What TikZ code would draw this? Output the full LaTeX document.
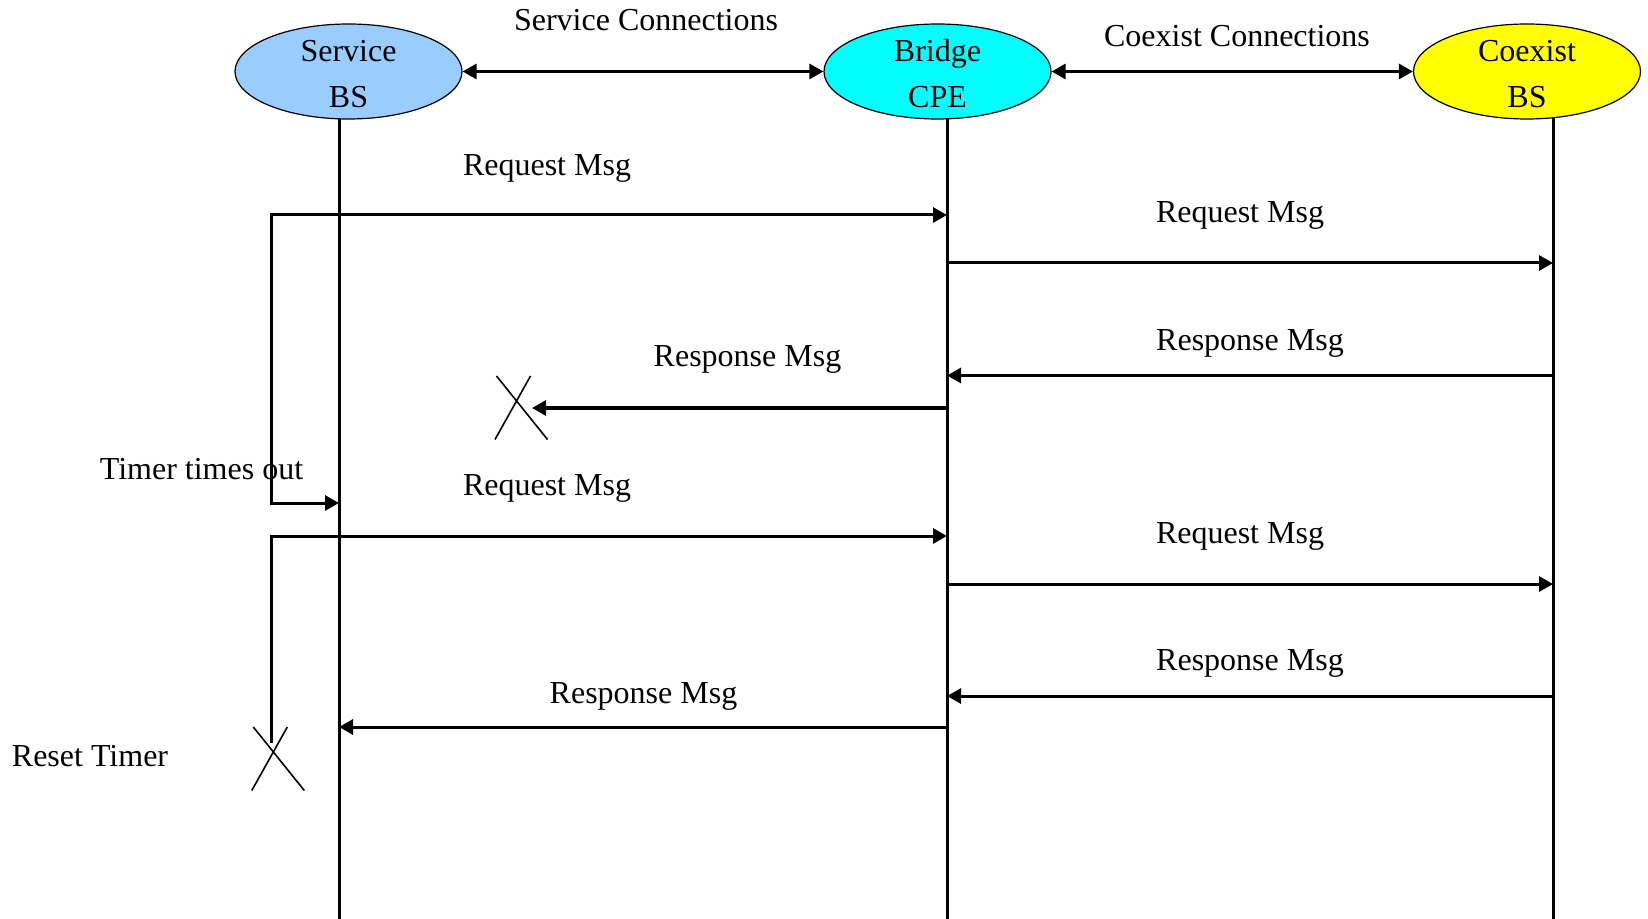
\documentclass[tikz,border=0pt]{standalone}
\usepackage{fontspec}
\setmainfont{Liberation Serif}
\usetikzlibrary{arrows.meta,shapes.geometric,backgrounds}
\definecolor{svcblue}{RGB}{153,204,255}
\definecolor{cpecyan}{RGB}{0,255,255}
\definecolor{coxyellow}{RGB}{255,255,0}
\newcommand{\toprule}{\rule{0pt}{12.8pt}}
\begin{document}
\begin{tikzpicture}[x=0.5pt,y=-0.5pt,
  entity/.style={ellipse, draw, line width=0.6pt, minimum width=113.5pt,
    minimum height=47.5pt, inner sep=-1.5pt, align=center,
    font=\fontsize{16}{23}\selectfont},
  lifeline/.style={line width=1.5pt},
  msg/.style={line width=1.5pt, -{Triangle[length=7pt,width=7.5pt]}},
  link/.style={line width=1.5pt,
    {Triangle[length=7pt,width=7.5pt]}-{Triangle[length=7pt,width=7.5pt]}},
  lbl/.style={anchor=base, inner sep=0pt, font=\fontsize{16}{19}\selectfont},
  lost/.style={line width=0.8pt},
  cross/.pic={\draw[lost] (0,0) -- (51,63.5) (34,0) -- (-1.5,63.5);}
]
\useasboundingbox (0,0) rectangle (1648,919);

% the three entities
\node[entity, fill=svcblue]   (svc) at (348.5,71.5) {\toprule Service\\BS};
\node[entity, fill=cpecyan]   (cpe) at (937.5,71.5) {\toprule Bridge\\CPE};
\node[entity, fill=coxyellow] (cbs) at (1527,71.5)  {\toprule Coexist\\BS};

% connections between the entities
\draw[link] (svc) -- (cpe);
\draw[link] (cpe) -- (cbs);
\node[lbl] (svclink) at (646,31) {Service Connections};
\node[lbl] (coxlink) at (1237,47) {Coexist Connections};

% lifelines, drawn under the ellipses
\coordinate (svcEnd) at (339,919);
\coordinate (cpeEnd) at (947,919);
\coordinate (cbsEnd) at (1553,919);
\begin{scope}[on background layer]
  \draw[lifeline] (svc.center -| svcEnd) -- (svcEnd);
  \draw[lifeline] (cpe.center -| cpeEnd) -- (cpeEnd);
  \draw[lifeline] (cbs.center -| cbsEnd) -- (cbsEnd);
\end{scope}

% message levels
\coordinate (req1) at (271,215);
\coordinate (tmo)  at (271,503);
\coordinate (req2) at (271,536);
\coordinate (rst)  at (271,743);
\coordinate (fwd1) at (947,263);
\coordinate (rsp1) at (1553,375.5);
\coordinate (drop) at (532,408);
\coordinate (fwd2) at (947,584);
\coordinate (rsp2) at (1553,696);
\coordinate (rsp3) at (947,727);

% first attempt
\draw[link] (tmo -| svcEnd) -- (tmo) -- (req1) -- (req1 -| cpeEnd);
\draw[msg] (fwd1) -- (fwd1 -| cbsEnd);
\draw[msg] (rsp1) -- (rsp1 -| cpeEnd);
\draw[msg] (drop -| cpeEnd) -- (drop);
\pic at (496.5,376) {cross};

% second attempt
\draw[msg] (rst) -- (req2) -- (req2 -| cpeEnd);
\draw[msg] (fwd2) -- (fwd2 -| cbsEnd);
\draw[msg] (rsp2) -- (rsp2 -| cpeEnd);
\draw[msg] (rsp3) -- (rsp3 -| svcEnd);
\pic at (253.3,727) {cross};

% message labels
\node[lbl] (l1)  at (547,175.5)  {Request Msg};
\node[lbl] (l2)  at (1240,222.5) {Request Msg};
\node[lbl] (l3)  at (1250,351)   {Response Msg};
\node[lbl] (l4)  at (747.5,366.5) {Response Msg};
\node[lbl] (l5)  at (201.5,479)  {Timer times out};
\node[lbl] (l6)  at (547,495)    {Request Msg};
\node[lbl] (l7)  at (1240,543.5) {Request Msg};
\node[lbl] (l8)  at (1250,670.5) {Response Msg};
\node[lbl] (l9)  at (643.5,703)  {Response Msg};
\node[lbl] (l10) at (90,766.5)   {Reset Timer};
\end{tikzpicture}
\end{document}
